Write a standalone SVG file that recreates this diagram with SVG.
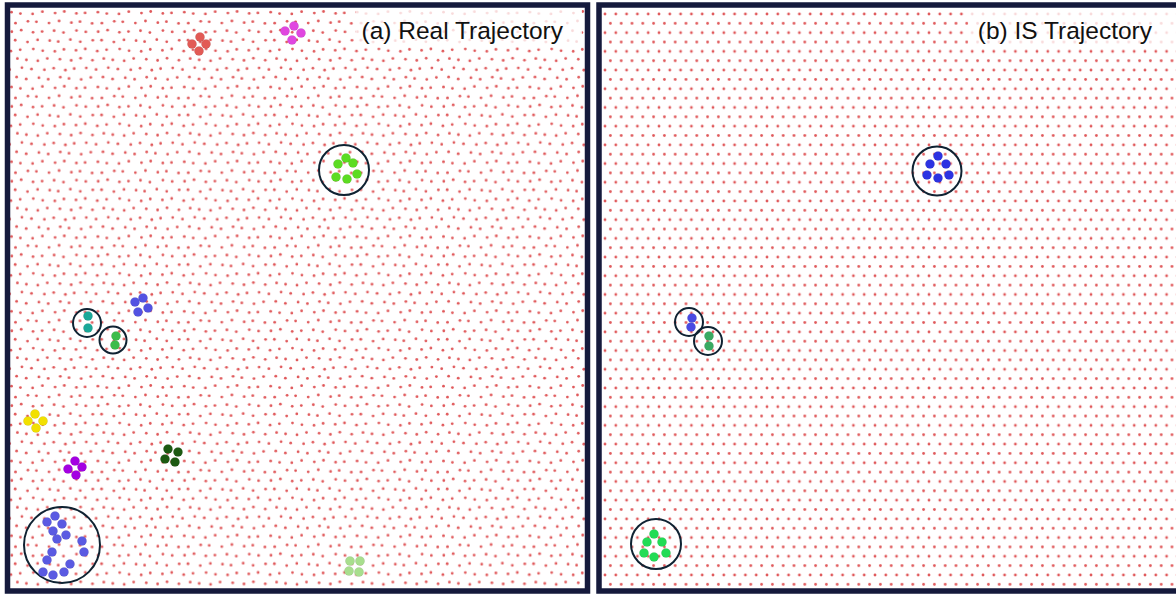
<svg xmlns="http://www.w3.org/2000/svg" xmlns:xlink="http://www.w3.org/1999/xlink" width="1176" height="596" viewBox="0 0 1176 596">
<style>
.frame{fill:none;stroke:#151a3c;stroke-width:5.5}
.ring{fill:none;stroke:#0f2232;stroke-width:2}
.title{font-family:"Liberation Sans",Arial,sans-serif;font-size:24.5px;fill:#111}
.halo{fill:#fff;fill-opacity:0.78}
.d{fill:#e0585a}
.b{stroke:#000;stroke-opacity:0.12;stroke-width:0.6}
</style>
<defs>
<pattern id="latB" patternUnits="userSpaceOnUse" x="605" y="14" width="10.8" height="18.7">
<circle class="d" cx="0" cy="0" r="1.4"/><circle class="d" cx="10.8" cy="0" r="1.4"/>
<circle class="d" cx="0" cy="18.7" r="1.4"/><circle class="d" cx="10.8" cy="18.7" r="1.4"/>
<circle class="d" cx="5.4" cy="9.35" r="1.4"/>
</pattern>
<pattern id="latA" patternUnits="userSpaceOnUse" x="8" y="8" width="86.4" height="74.8">
<g class="d">
<circle cx="3.5" cy="4.2" r="1.4"/><circle cx="12.4" cy="5.6" r="1.4"/><circle cx="24.6" cy="5.9" r="1.4"/><circle cx="34.4" cy="3.7" r="1.4"/><circle cx="47.1" cy="5.1" r="1.4"/><circle cx="56.3" cy="3.5" r="1.4"/><circle cx="68.4" cy="5.4" r="1.4"/><circle cx="77.1" cy="4.9" r="1.4"/>
<circle cx="7.5" cy="15.15" r="1.4"/><circle cx="19.9" cy="13.25" r="1.4"/><circle cx="28.4" cy="13.75" r="1.4"/><circle cx="41.0" cy="15.05" r="1.4"/><circle cx="51.1" cy="12.95" r="1.4"/><circle cx="63.4" cy="14.65" r="1.4"/><circle cx="72.0" cy="13.65" r="1.4"/><circle cx="84.1" cy="15.35" r="1.4"/>
<circle cx="3.8" cy="23.7" r="1.4"/><circle cx="13.2" cy="22.1" r="1.4"/><circle cx="25.0" cy="24.3" r="1.4"/><circle cx="34.1" cy="23.5" r="1.4"/><circle cx="46.1" cy="22.7" r="1.4"/><circle cx="55.5" cy="24.5" r="1.4"/><circle cx="68.5" cy="22.5" r="1.4"/><circle cx="77.8" cy="23.9" r="1.4"/>
<circle cx="7.2" cy="32.15" r="1.4"/><circle cx="19.5" cy="33.95" r="1.4"/><circle cx="29.6" cy="31.85" r="1.4"/><circle cx="41.7" cy="32.55" r="1.4"/><circle cx="50.2" cy="33.55" r="1.4"/><circle cx="62.4" cy="31.55" r="1.4"/><circle cx="72.3" cy="33.75" r="1.4"/><circle cx="84.8" cy="32.25" r="1.4"/>
<circle cx="2.9" cy="43.1" r="1.4"/><circle cx="12.2" cy="41.7" r="1.4"/><circle cx="25.3" cy="41.0" r="1.4"/><circle cx="34.7" cy="42.7" r="1.4"/><circle cx="46.8" cy="43.3" r="1.4"/><circle cx="55.9" cy="41.4" r="1.4"/><circle cx="68.0" cy="42.3" r="1.4"/><circle cx="77.3" cy="40.9" r="1.4"/>
<circle cx="9.4" cy="50.55" r="1.4"/><circle cx="18.4" cy="51.85" r="1.4"/><circle cx="29.8" cy="52.75" r="1.4"/><circle cx="39.3" cy="50.45" r="1.4"/><circle cx="51.9" cy="51.15" r="1.4"/><circle cx="63.2" cy="52.35" r="1.4"/><circle cx="72.6" cy="50.15" r="1.4"/><circle cx="84.5" cy="52.15" r="1.4"/>
<circle cx="1.7" cy="61.5" r="1.4"/><circle cx="13.9" cy="59.7" r="1.4"/><circle cx="23.5" cy="61.0" r="1.4"/><circle cx="36.4" cy="61.8" r="1.4"/><circle cx="45.7" cy="60.2" r="1.4"/><circle cx="57.4" cy="62.1" r="1.4"/><circle cx="66.2" cy="60.6" r="1.4"/><circle cx="78.3" cy="59.9" r="1.4"/>
<circle cx="8.6" cy="68.95" r="1.4"/><circle cx="18.2" cy="70.95" r="1.4"/><circle cx="30.9" cy="69.75" r="1.4"/><circle cx="40.2" cy="71.25" r="1.4"/><circle cx="52.3" cy="69.15" r="1.4"/><circle cx="61.0" cy="70.45" r="1.4"/><circle cx="73.2" cy="71.35" r="1.4"/><circle cx="82.8" cy="69.35" r="1.4"/>
</g>
</pattern>
</defs>
<rect width="1176" height="596" fill="#fff"/>
<g id="panel-a">
<rect x="7.5" y="5" width="580" height="586" fill="url(#latA)"/>
<rect class="halo" x="356" y="9" width="226" height="38"/>
<text class="title" x="563" y="39" text-anchor="end">(a) Real Trajectory</text>
</g>
<g id="panel-b">
<rect x="599" y="5" width="600" height="586" fill="url(#latB)"/>
<rect class="halo" x="968" y="9" width="212" height="38"/>
<text class="title" x="1152" y="39" text-anchor="end">(b) IS Trajectory</text>
</g>
<g id="a-red" class="b" fill="#e25a55"><circle cx="200" cy="37" r="4.6"/><circle cx="192" cy="44" r="4.6"/><circle cx="206" cy="44" r="4.6"/><circle cx="199" cy="51" r="4.6"/></g>
<g id="a-magenta" class="b" fill="#e046e0"><circle cx="294" cy="26" r="4.6"/><circle cx="285" cy="31" r="4.6"/><circle cx="301" cy="33" r="4.6"/><circle cx="292" cy="40" r="4.6"/></g>
<g id="a-lime"><circle class="ring" cx="344" cy="170" r="25"/><g class="b" fill="#5cdc22"><circle cx="346" cy="158" r="4.6"/><circle cx="338" cy="164" r="4.6"/><circle cx="353" cy="163" r="4.6"/><circle cx="336" cy="177" r="4.6"/><circle cx="347" cy="179" r="4.6"/><circle cx="357" cy="174" r="4.6"/></g></g>
<g id="a-teal"><circle class="ring" cx="87" cy="323" r="14"/><g class="b" fill="#1aa898"><circle cx="88" cy="316" r="4.6"/><circle cx="88" cy="328" r="4.6"/></g></g>
<g id="a-green"><circle class="ring" cx="113" cy="340" r="13.5"/><g class="b" fill="#3cbc4a"><circle cx="116" cy="336" r="4.6"/><circle cx="115" cy="345" r="4.6"/></g></g>
<g id="a-blue" class="b" fill="#5252e2"><circle cx="143" cy="298" r="4.6"/><circle cx="135" cy="302" r="4.6"/><circle cx="148" cy="308" r="4.6"/><circle cx="138" cy="312" r="4.6"/></g>
<g id="a-yellow" class="b" fill="#f2e000"><circle cx="35" cy="414" r="4.6"/><circle cx="28" cy="421" r="4.6"/><circle cx="43" cy="421" r="4.6"/><circle cx="36" cy="428" r="4.6"/></g>
<g id="a-purple" class="b" fill="#a400e2"><circle cx="75" cy="461" r="4.6"/><circle cx="68" cy="469" r="4.6"/><circle cx="82" cy="467" r="4.6"/><circle cx="76" cy="475" r="4.6"/></g>
<g id="a-darkgreen" class="b" fill="#1c5a12"><circle cx="168" cy="449" r="4.6"/><circle cx="178" cy="452" r="4.6"/><circle cx="165" cy="459" r="4.6"/><circle cx="175" cy="462" r="4.6"/></g>
<g id="a-bigblue"><circle class="ring" cx="62" cy="545" r="38"/><g class="b" fill="#5a5ae2"><circle cx="55" cy="516" r="4.6"/><circle cx="47" cy="522" r="4.6"/><circle cx="62" cy="524" r="4.6"/><circle cx="53" cy="531" r="4.6"/><circle cx="66" cy="535" r="4.6"/><circle cx="57" cy="539" r="4.6"/><circle cx="82" cy="541" r="4.6"/><circle cx="84" cy="552" r="4.6"/><circle cx="52" cy="552" r="4.6"/><circle cx="47" cy="560" r="4.6"/><circle cx="70" cy="564" r="4.6"/><circle cx="64" cy="572" r="4.6"/><circle cx="43" cy="572" r="4.6"/><circle cx="53" cy="575" r="4.6"/></g></g>
<g id="a-palegreen" class="b" fill="#a8de8e"><circle cx="350" cy="561" r="4.6"/><circle cx="360" cy="561" r="4.6"/><circle cx="349" cy="571" r="4.6"/><circle cx="359" cy="572" r="4.6"/></g>
<g id="b-blue6"><circle class="ring" cx="937" cy="171" r="24.5"/><g class="b" fill="#2c32e2"><circle cx="938" cy="156" r="4.6"/><circle cx="930" cy="164" r="4.6"/><circle cx="946" cy="164" r="4.6"/><circle cx="927" cy="175" r="4.6"/><circle cx="938" cy="178" r="4.6"/><circle cx="949" cy="175" r="4.6"/></g></g>
<g id="b-blue2"><circle class="ring" cx="689" cy="322" r="14"/><g class="b" fill="#4a4ae2"><circle cx="692" cy="318" r="4.6"/><circle cx="691" cy="327" r="4.6"/></g></g>
<g id="b-green2"><circle class="ring" cx="708" cy="341" r="14"/><g class="b" fill="#3aaa62"><circle cx="709" cy="336" r="4.6"/><circle cx="709" cy="346" r="4.6"/></g></g>
<g id="b-green6"><circle class="ring" cx="656" cy="544" r="25"/><g class="b" fill="#22dc55"><circle cx="654" cy="534" r="4.6"/><circle cx="647" cy="542" r="4.6"/><circle cx="662" cy="542" r="4.6"/><circle cx="644" cy="553" r="4.6"/><circle cx="654" cy="557" r="4.6"/><circle cx="666" cy="553" r="4.6"/></g></g>
<g id="connectors"/>
<g id="frames">
<rect class="frame" x="7.5" y="5" width="580" height="586"/>
<rect class="frame" x="599" y="5" width="600" height="586"/>
</g>
</svg>
